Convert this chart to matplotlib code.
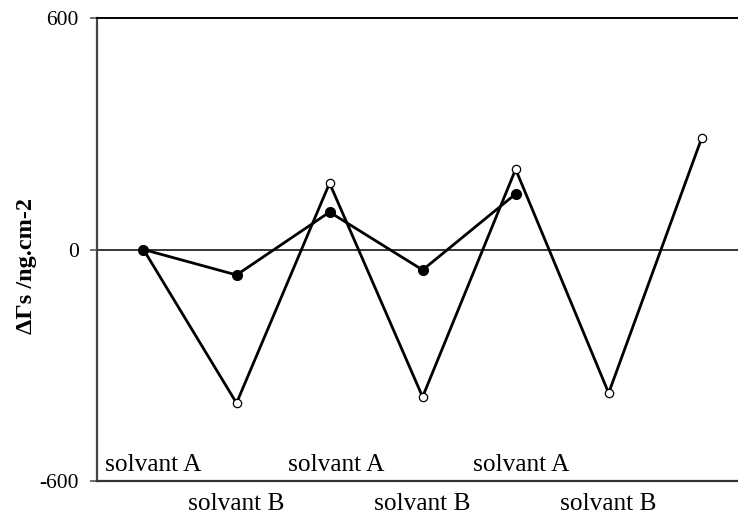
import matplotlib
matplotlib.use("Agg")
import matplotlib.pyplot as plt

# step index along the solvent sequence
steps = [0, 1, 2, 3, 4, 5, 6]
open_vals = [0, -398, 172, -382, 208, -372, 289]
filled_steps = [0, 1, 2, 3, 4]
filled_vals = [0, -66, 97, -53, 144]

label_a = ["solvant A", "solvant A", "solvant A"]
label_a_x = [0.1, 2.07, 4.06]
label_b = ["solvant B", "solvant B", "solvant B"]
label_b_x = [1, 3, 5]

yticks = [-600, 0, 600]

plt.rcParams['font.family'] = ['Liberation Serif', 'DejaVu Serif']

fig = plt.figure(figsize=(7.38, 5.17), dpi=100)
ax = fig.add_axes([0.1314, 0.0696, 0.8686, 0.8956])

ax.axhline(0, color="black", lw=1.1, zorder=1)
ax.plot(steps, open_vals, color="black", lw=2.0, marker="o", ms=6,
        mfc="white", mec="black", mew=0.9, zorder=2)
ax.plot(filled_steps, filled_vals, color="black", lw=2.0, marker="o", ms=7,
        mfc="black", mec="black", zorder=3)

ax.set_xlim(-0.5, 6.39)
ax.set_ylim(-600, 600)
ax.set_yticks(yticks)
ax.set_yticklabels([str(v) for v in yticks], fontsize=15.5)
ax.set_xticks([])
ax.tick_params(axis="y", direction="out", length=5, width=1.2, color="#555555", pad=8)

ax.spines["right"].set_visible(False)
ax.spines["left"].set_color("#444444")
ax.spines["left"].set_linewidth(1.6)
ax.spines["top"].set_linewidth(1.4)
ax.spines["bottom"].set_linewidth(1.6)
ax.spines["bottom"].set_color("#333333")

for txt, x in zip(label_a, label_a_x):
    ax.text(x, 0.035, txt, transform=ax.get_xaxis_transform(),
            ha="center", va="center", fontsize=18.3)
for txt, x in zip(label_b, label_b_x):
    ax.text(x, -0.049, txt, transform=ax.get_xaxis_transform(),
            ha="center", va="center", fontsize=18.3, clip_on=False)

fig.text(0.036, 0.485, "ΔΓs /ng.cm-2", rotation=90, ha="center", va="center",
         fontsize=17.5, fontweight="bold")

fig.savefig("out.png", dpi=100)
